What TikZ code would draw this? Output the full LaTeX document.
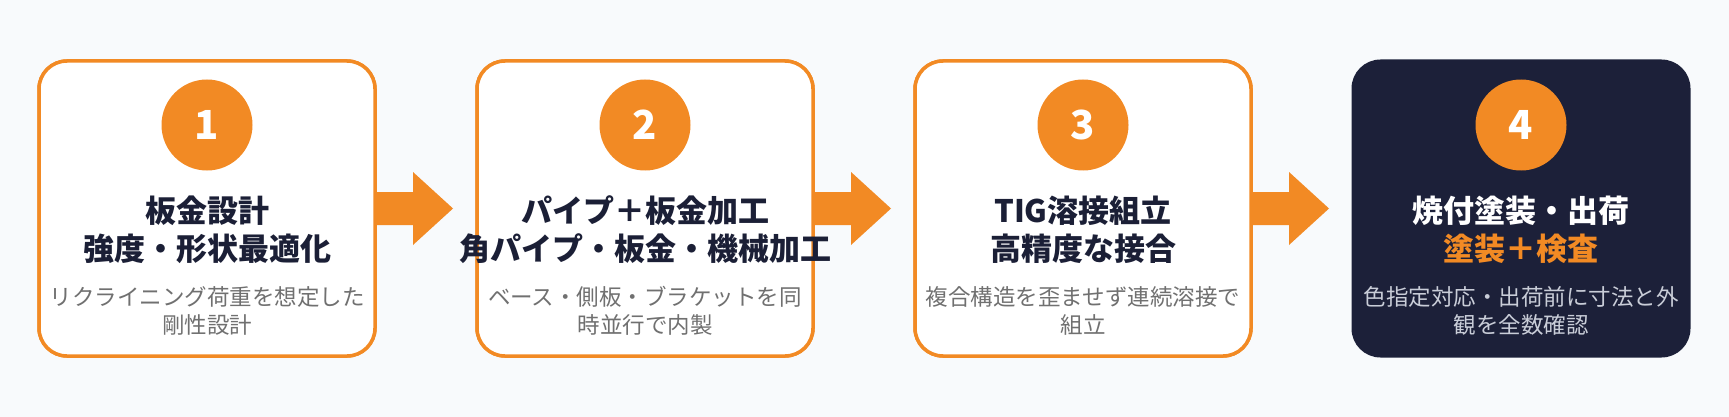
\documentclass[tikz,border=0pt]{standalone}
\usepackage{fontspec}
\usetikzlibrary{calc}
\setmainfont{Noto Sans CJK JP}
\definecolor{bg}{HTML}{F8FAFC}
\definecolor{accent}{HTML}{F28A24}
\definecolor{navy}{HTML}{1C2039}
\definecolor{ink}{HTML}{1B1F36}
\definecolor{greytext}{HTML}{707070}
\definecolor{lighttext}{HTML}{C9CDD8}
\tikzset{
  stepbox/.style={draw=accent, line width=3.5pt, fill=white, rounded corners=28pt,
    minimum width=336pt, minimum height=295pt, inner sep=0pt, outer sep=0pt},
  darkbox/.style={fill=navy, rounded corners=29pt,
    minimum width=339pt, minimum height=298pt, inner sep=0pt, outer sep=0pt},
  badge/.style={circle, fill=accent, minimum size=91pt, inner sep=0pt, text=white,
    font=\fontsize{40}{40}\selectfont\bfseries},
  ttl/.style={font=\fontsize{31}{38}\selectfont\bfseries, text=ink, anchor=base, inner sep=0pt},
  subt/.style={font=\fontsize{22.5}{29}\selectfont, text=greytext, anchor=base, inner sep=0pt},
  flowarrow/.style={fill=accent}
}
\begin{document}
\begin{tikzpicture}[x=1pt,y=-1pt]
\useasboundingbox[fill=bg] (0,0) rectangle (1729,417);

% boxes
\node[stepbox] (b1) at (207,208.5) {};
\node[stepbox] (b2) at (645,208.5) {};
\node[stepbox] (b3) at (1083,208.5) {};
\node[darkbox] (b4) at (1521,208.5) {};

% arrows
\foreach \a in {b1,b2,b3}{
  \fill[flowarrow] ($(\a.east)+(-1,-16.5)$) -- ++(39,0) -- ++(0,-20) -- ($(\a.east)+(78,0)$)
     -- ($(\a.east)+(38,36.5)$) -- ++(0,-20) -- ($(\a.east)+(-1,16.5)$) -- cycle;
}
% redraw box borders over arrow starts
\node[stepbox] at (b1) {};
\node[stepbox] at (b2) {};
\node[stepbox] at (b3) {};

% badges
\node[badge] (n1) at (207,125) {1};
\node[badge] (n2) at (645,125) {2};
\node[badge] (n3) at (1083,125) {3};
\node[badge] (n4) at (1521,125) {4};

% box 1
\node[ttl] (t1a) at (207,222) {板金設計};
\node[ttl] (t1b) at (207,260) {強度・形状最適化};
\node[subt] (s1a) at (207,305.5) {リクライニング荷重を想定した};
\node[subt] (s1b) at (207,333.5) {剛性設計};

% box 2
\node[ttl] (t2a) at (645,222) {パイプ＋板金加工};
\node[ttl] (t2b) at (645,260) {角パイプ・板金・機械加工};
\node[subt] (s2a) at (645,305.5) {ベース・側板・ブラケットを同};
\node[subt] (s2b) at (645,333.5) {時並行で内製};

% box 3
\node[ttl] (t3a) at (1083,222) {TIG溶接組立};
\node[ttl] (t3b) at (1083,260) {高精度な接合};
\node[subt] (s3a) at (1083,305.5) {複合構造を歪ませず連続溶接で};
\node[subt] (s3b) at (1083,333.5) {組立};

% box 4
\node[ttl, text=white] (t4a) at (1521,222) {焼付塗装・出荷};
\node[ttl, text=accent] (t4b) at (1521,260) {塗装＋検査};
\node[subt, text=lighttext] (s4a) at (1521,305.5) {色指定対応・出荷前に寸法と外};
\node[subt, text=lighttext] (s4b) at (1521,333.5) {観を全数確認};
\end{tikzpicture}
\end{document}
